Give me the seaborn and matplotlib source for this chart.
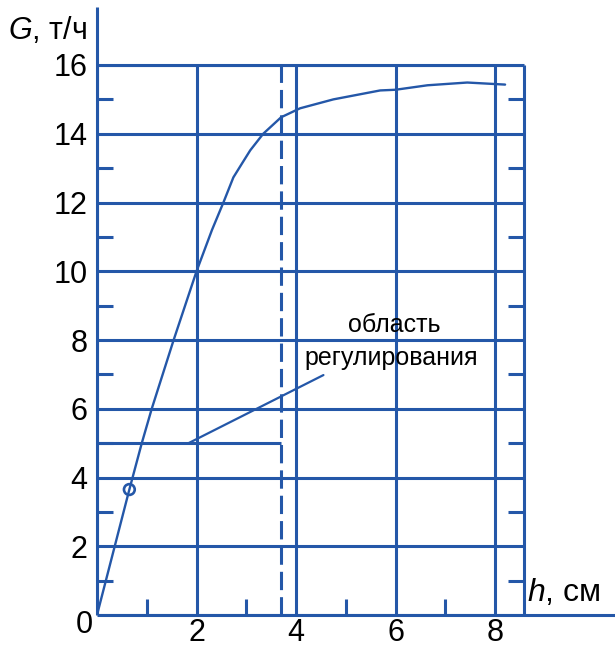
import matplotlib
matplotlib.use("Agg")
import matplotlib.pyplot as plt
import seaborn as sns
import pandas as pd

# ---- data ----
h_cm = [0, 0.65, 0.90, 1.10, 1.54, 2.0, 2.31, 2.54, 2.74, 2.92, 3.08, 3.34, 3.70, 4.08,
        4.75, 5.69, 6.0, 6.64, 7.44, 8.2]
G_th = [0, 3.65, 5.0, 6.0, 8.0, 10.0, 11.2, 12.0, 12.73, 13.15, 13.52, 14.0, 14.48, 14.74,
        15.0, 15.26, 15.28, 15.41, 15.49, 15.43]
marker_h = [0.65]
marker_G = [3.65]
region_h = 3.7          # dashed boundary of regulation region
region_G = 5.0          # level of the region bracket
leader_start = (1.84, 5.0)
leader_end = (4.55, 6.98)
x_ticks = [2, 4, 6, 8]
x_minor = [1, 3, 5, 7]
y_ticks = [2, 4, 6, 8, 10, 12, 14, 16]
y_minor = [1, 3, 5, 7, 9, 11, 13, 15]
x_max = 8.58
y_max = 16
label_line1 = "область"
label_line2 = "регулирования"
y_label = "$G$, т/ч"
x_label = "$h$, см"

BLUE = "#2457a8"

sns.set_style("white")
plt.rcParams["font.family"] = ["Liberation Sans", "DejaVu Sans"]
plt.rcParams["text.color"] = "black"
plt.rcParams["mathtext.fontset"] = "custom"
plt.rcParams["mathtext.rm"] = "Liberation Sans"
plt.rcParams["mathtext.it"] = "Liberation Sans:italic"

W, H = 615, 649
fig = plt.figure(figsize=(W / 100, H / 100), dpi=100)
ax = fig.add_axes([97 / W, (H - 615) / H, (524 - 97) / W, (615 - 65) / H])
ax.set_xlim(0, x_max)
ax.set_ylim(0, y_max)
for s in ax.spines.values():
    s.set_visible(False)

LW_GRID = 2.2
# grid
ax.set_xticks([0] + x_ticks)
ax.set_yticks([0] + y_ticks)
ax.grid(True, color=BLUE, linewidth=LW_GRID)
ax.set_xticklabels([""] + [str(v) for v in x_ticks])
ax.set_yticklabels([""] + [str(v) for v in y_ticks])
ax.tick_params(axis="both", which="major", length=0, labelsize=22,
               colors="black", labelcolor="black")
ax.tick_params(axis="y", which="major", pad=7)
ax.tick_params(axis="x", which="major", pad=2)

# minor ticks (inside) on left, right, bottom
ax.set_xticks(x_minor, minor=True)
ax.set_yticks(y_minor, minor=True)
ax.tick_params(which="minor", direction="in", length=11.5, width=LW_GRID,
               color=BLUE, left=True, right=True, bottom=True, top=False)

# frame lines
ax.plot([0, 0], [0, 17.7], color=BLUE, lw=LW_GRID, clip_on=False, solid_capstyle="butt")
ax.plot([0, 10.45], [0, 0], color=BLUE, lw=LW_GRID, clip_on=False, solid_capstyle="butt")
ax.plot([x_max, x_max], [0, y_max], color=BLUE, lw=LW_GRID, clip_on=False, solid_capstyle="butt")
ax.plot([0, x_max], [y_max, y_max], color=BLUE, lw=LW_GRID, clip_on=False, solid_capstyle="butt")

# dashed boundary
ax.plot([region_h, region_h], [0, y_max], color=BLUE, lw=LW_GRID,
        linestyle=(0, (6, 2.3)), clip_on=False)
# bracket line at G=5
ax.plot([0, region_h], [region_G, region_G], color=BLUE, lw=LW_GRID, solid_capstyle="butt")
# leader
ax.plot([leader_start[0], leader_end[0]], [leader_start[1], leader_end[1]],
        color=BLUE, lw=1.6)

# curve
df = pd.DataFrame({"h": h_cm, "G": G_th})
sns.lineplot(data=df, x="h", y="G", ax=ax, color=BLUE, linewidth=1.7,
             estimator=None, sort=False)
sns.scatterplot(x=marker_h, y=marker_G, ax=ax, s=60, marker="o",
                facecolor="none", edgecolor=BLUE, linewidth=1.9, zorder=5)
ax.set_xlabel("")
ax.set_ylabel("")

# annotation text
ax.text(5.97, 8.23, label_line1, ha="center", va="baseline", fontsize=18, color="black")
ax.text(5.92, 7.27, label_line2, ha="center", va="baseline", fontsize=18, color="black")

# origin label
ax.text(-0.26, -0.29, "0", ha="center", va="center", fontsize=22, clip_on=False,
        color="black")

# axis labels (figure pixels)
fig.text(8 / W, 1 - 39 / H, y_label, ha="left", va="baseline", fontsize=22, color="black")
fig.text(527 / W, 1 - 601 / H, x_label, ha="left", va="baseline", fontsize=23, color="black")

fig.savefig("out.png", dpi=100)
